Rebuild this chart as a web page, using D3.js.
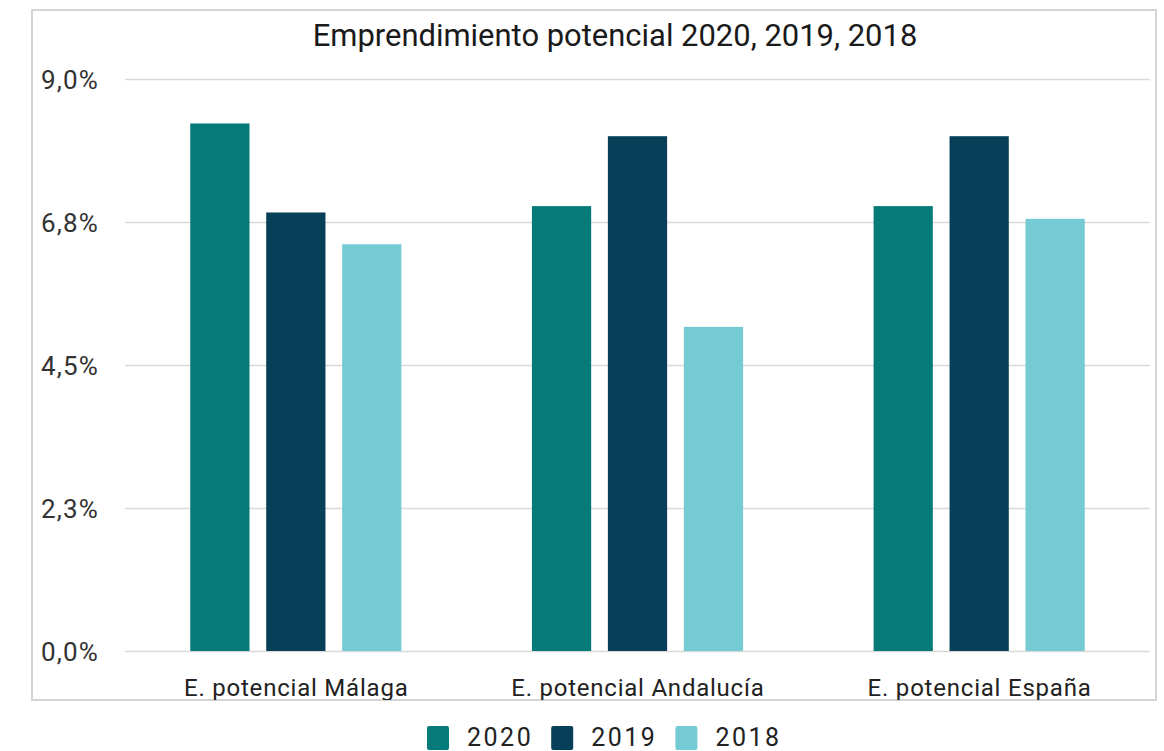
<!DOCTYPE html>
<html>
<head>
<meta charset="utf-8">
<script src="https://cdn.jsdelivr.net/npm/d3@7"></script>
<style>
  html, body { margin: 0; padding: 0; background: #ffffff; }
  svg { display: block; }
  text { font-family: Roboto, "Noto Sans", sans-serif; }
</style>
</head>
<body>
<svg id="chart" width="1164" height="751"></svg>
<script>
// Potential entrepreneurship rates (%) by territory and year
const categories = ["E. potencial Málaga", "E. potencial Andalucía", "E. potencial España"];
const years = ["2020", "2019", "2018"];
const values2020 = [8.3, 7.0, 7.0];
const values2019 = [6.9, 8.1, 8.1];
const values2018 = [6.4, 5.1, 6.8];
const tickValues = [0, 2.25, 4.5, 6.75, 9];
const tickLabels = ["0,0%", "2,3%", "4,5%", "6,8%", "9,0%"];
const titleText = "Emprendimiento potencial 2020, 2019, 2018";

const seriesByYear = { "2020": values2020, "2019": values2019, "2018": values2018 };
const colors = { "2020": "#047b79", "2019": "#063f57", "2018": "#74cbd4" };

const svg = d3.select("#chart");

// Widen a text node with letter-spacing until it spans the given width
function spreadTo(sel, width) {
  sel.each(function () {
    const node = this;
    const n = node.textContent.length;
    const w = node.getComputedTextLength();
    if (n > 1 && w < width) d3.select(node).attr("letter-spacing", (width - w) / n);
  });
}

// Chart frame
const frame = { x0: 32, y0: 10, x1: 1156, y1: 700 };
const plot = { left: 125, right: 1150, top: 79, bottom: 651 };

svg.append("defs").append("clipPath").attr("id", "frameClip")
  .append("rect")
  .attr("x", frame.x0).attr("y", frame.y0)
  .attr("width", frame.x1 - frame.x0).attr("height", frame.y1 - frame.y0);

svg.append("rect")
  .attr("x", frame.x0).attr("y", frame.y0)
  .attr("width", frame.x1 - frame.x0).attr("height", frame.y1 - frame.y0)
  .attr("fill", "#ffffff")
  .attr("stroke", "#d4d4d4")
  .attr("stroke-width", 2);

const g = svg.append("g").attr("clip-path", "url(#frameClip)");

// Scales
const y = d3.scaleLinear().domain([0, 9]).range([plot.bottom, plot.top]);
const x0 = d3.scaleBand().domain(categories)
  .range([plot.left, plot.right])
  .paddingInner(0.382).paddingOuter(0.191);
const x1 = d3.scaleBand().domain(years)
  .range([0, x0.bandwidth()])
  .paddingInner(0.22).paddingOuter(0);

// Horizontal gridlines + y tick labels
const yAxis = d3.axisLeft(y)
  .tickValues(tickValues)
  .tickFormat((d, i) => tickLabels[i])
  .tickSize(-(plot.right - plot.left))
  .tickPadding(26);

const yAxisG = g.append("g")
  .attr("transform", `translate(${plot.left},0)`)
  .call(yAxis);
yAxisG.select(".domain").remove();
yAxisG.selectAll(".tick line")
  .attr("stroke", "#d9d9d9")
  .attr("stroke-width", 1.6);
yAxisG.selectAll(".tick text")
  .attr("fill", "#333333")
  .attr("font-size", 26)
  .attr("dy", "0.36em")
  .call(spreadTo, 58);

// Bars
const groups = g.append("g").selectAll("g")
  .data(categories)
  .join("g")
  .attr("transform", d => `translate(${x0(d)},0)`);

groups.selectAll("rect")
  .data((c, i) => years.map(yr => ({ year: yr, value: seriesByYear[yr][i] })))
  .join("rect")
  .attr("x", d => x1(d.year))
  .attr("width", x1.bandwidth())
  .attr("y", d => y(d.value))
  .attr("height", d => y(0) - y(d.value))
  .attr("fill", d => colors[d.year]);

// Category axis labels
const xAxis = d3.axisBottom(x0).tickSize(0).tickPadding(28);
const xAxisG = g.append("g")
  .attr("transform", `translate(0,${plot.bottom})`)
  .call(xAxis);
xAxisG.select(".domain").remove();
xAxisG.selectAll(".tick text")
  .attr("fill", "#222222")
  .attr("font-size", 24)
  .attr("dy", "0.71em");
xAxisG.selectAll(".tick text").each(function () {
  const el = d3.select(this);
  const w = this.getComputedTextLength();
  const n = this.textContent.length;
  const target = w * 225 / 210;
  el.attr("letter-spacing", (target - w) / n);
  el.attr("dx", (target - w) / n / 2);
});

// Title
const title = g.append("text")
  .attr("x", 615)
  .attr("y", 46)
  .attr("text-anchor", "middle")
  .attr("fill", "#1a1a1a")
  .attr("font-size", 28)
  .text(titleText);
const titleWidth = title.node().getComputedTextLength();
title.attr("font-size", 28 * 605 / titleWidth);

// Legend
const legend = svg.append("g").attr("transform", "translate(427,726)");
let cursor = 0;
years.forEach(yr => {
  const item = legend.append("g").attr("transform", `translate(${cursor},0)`);
  item.append("rect")
    .attr("x", 0).attr("y", 0)
    .attr("width", 22).attr("height", 24)
    .attr("rx", 2)
    .attr("fill", colors[yr]);
  const t = item.append("text")
    .attr("x", 40).attr("y", 20)
    .attr("fill", "#222222")
    .attr("font-size", 25)
    .attr("letter-spacing", 2.5)
    .text(yr);
  cursor += 40 + t.node().getComputedTextLength() + 18;
});
</script>
</body>
</html>
